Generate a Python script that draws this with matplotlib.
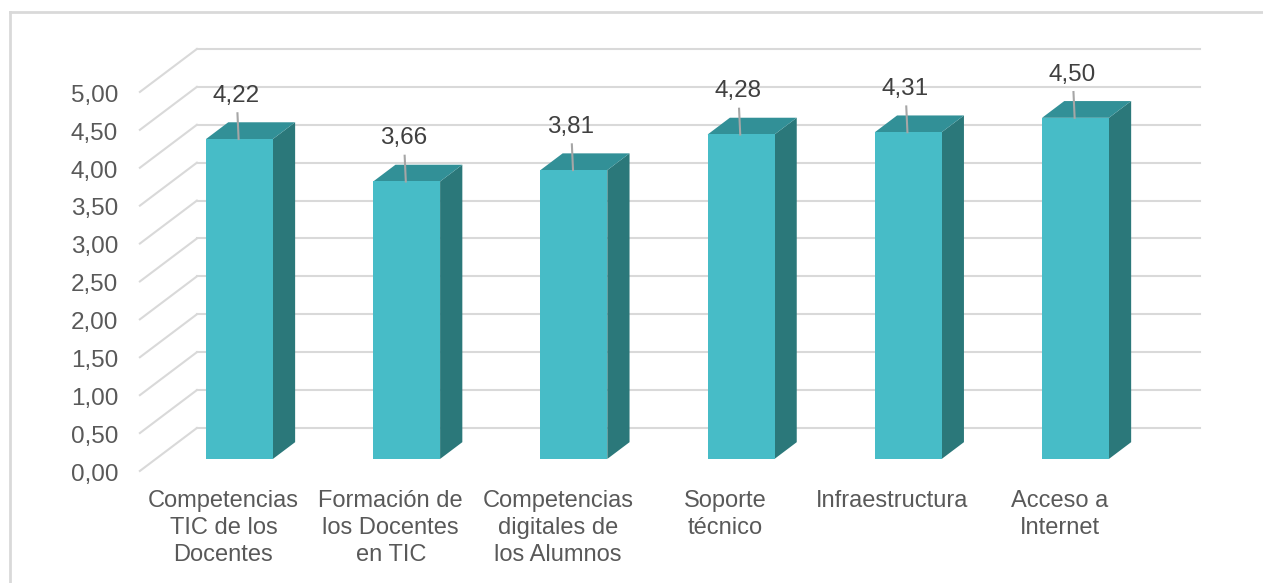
import matplotlib
matplotlib.use("Agg")
import matplotlib.pyplot as plt
from matplotlib.patches import Polygon

categories = [
    "Competencias\nTIC de los\nDocentes",
    "Formación de\nlos Docentes\nen TIC",
    "Competencias\ndigitales de\nlos Alumnos",
    "Soporte\ntécnico",
    "Infraestructura",
    "Acceso a\nInternet",
]
values = [4.22, 3.66, 3.81, 4.28, 4.31, 4.50]
y_ticks = [0.0, 0.5, 1.0, 1.5, 2.0, 2.5, 3.0, 3.5, 4.0, 4.5, 5.0]

FRONT = "#47BCC7"
TOP = "#329097"
SIDE = "#2B787A"
GRID = "#D9D9D9"
TEXT = "#595959"

# oblique projection: offset for full depth (back wall d=0 -> front d=1)
DX, DY = -0.341, -0.567
D_BACK, D_FRONT = 0.33, 0.72
HALF_W = 0.2


def proj(x, y, d):
    return (x + DX * d, y + DY * d)


fig = plt.figure(figsize=(12.63, 5.83), dpi=100)
ax = fig.add_axes([0, 0, 1, 1])
ax.set_xlim(-1.6776, 5.876)
ax.set_ylim(-2.045, 5.646)
ax.axis("off")

# chart border (top + left visible)
fig.add_artist(plt.Line2D([10 / 1263, 10 / 1263], [0, 1 - 12 / 583],
                          color="#D9D9D9", lw=2, transform=fig.transFigure))
fig.add_artist(plt.Line2D([10 / 1263, 1], [1 - 12 / 583, 1 - 12 / 583],
                          color="#D9D9D9", lw=2, transform=fig.transFigure))

n = len(categories)
x_left, x_right = -0.5, n - 0.5

# back wall gridlines and side wall diagonals
for t in y_ticks:
    ax.plot([x_left, x_right], [t, t], color=GRID, lw=1.5, zorder=1)
    p0 = proj(x_left, t, 0)
    p1 = proj(x_left, t, 1)
    ax.plot([p0[0], p1[0]], [p0[1], p1[1]], color=GRID, lw=1.5, zorder=1)
    fx, fy = proj(x_left, t, 1)
    ax.text(fx - 0.13, fy - 0.05, f"{t:.2f}".replace(".", ","), ha="right", va="center",
            fontsize=17.5, color=TEXT, family="Liberation Sans")

# bars
for i, v in enumerate(values):
    xl, xr = i - HALF_W, i + HALF_W
    fl0 = proj(xl, 0, D_FRONT)
    fr0 = proj(xr, 0, D_FRONT)
    flv = proj(xl, v, D_FRONT)
    frv = proj(xr, v, D_FRONT)
    blv = proj(xl, v, D_BACK)
    brv = proj(xr, v, D_BACK)
    br0 = proj(xr, 0, D_BACK)
    ax.add_patch(Polygon([fr0, frv, brv, br0], closed=True, fc=SIDE, ec="none", zorder=3))
    ax.add_patch(Polygon([flv, frv, brv, blv], closed=True, fc=TOP, ec="none", zorder=3))
    ax.add_patch(Polygon([fl0, fr0, frv, flv], closed=True, fc=FRONT, ec="none", zorder=4))

    # data label with leader line
    cx, cy = proj(i, v, D_FRONT)
    ax.plot([cx - 0.012, cx - 0.005], [cy + 0.34, cy], color="#A6A6A6", lw=1.5, zorder=5)
    ax.text(cx - 0.02, cy + 0.57, f"{v:.2f}".replace(".", ","), ha="center", va="center",
            fontsize=17.5, color="#404040", family="Liberation Sans", zorder=6)

    # category label at front plane
    lx, ly = proj(i, 0, 1)
    ax.text(lx, ly - 0.245, categories[i], ha="center", va="top", fontsize=17,
            color=TEXT, family="Liberation Sans", linespacing=1.31)

fig.savefig("out.png", dpi=100, facecolor="white")
